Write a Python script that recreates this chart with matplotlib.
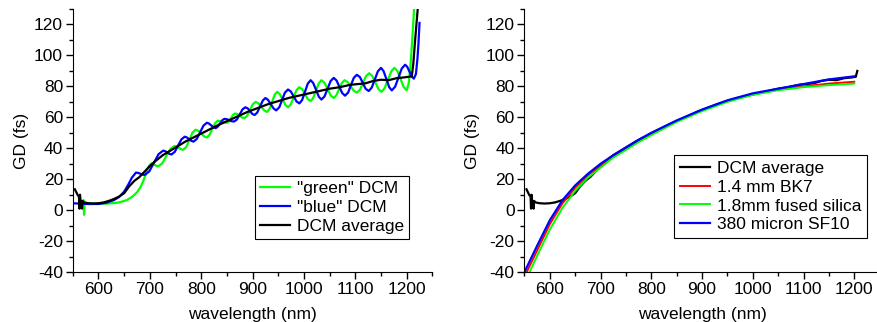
import numpy as np
import matplotlib
matplotlib.use("Agg")
import matplotlib.pyplot as plt

plt.rcParams['font.family'] = ['Liberation Sans', 'DejaVu Sans']
plt.rcParams['font.size'] = 12.5
plt.rcParams['axes.unicode_minus'] = False

# "green" DCM group delay (nm, fs)
green_wl = [563, 566, 569, 571, 572, 573, 580, 600, 620, 640, 655, 665, 675, 682, 688, 694, 698,
            703, 706, 709.5, 713, 716, 724, 732, 740, 748, 752, 756.5, 761, 765, 771, 777, 783,
            789, 794.5, 800, 805.5, 811, 816, 821.5, 827, 832, 836, 841, 845.5, 850, 854, 858, 862,
            866, 870.5, 875, 879.5, 884, 889.5, 895, 900.5, 906, 911.5, 917, 922.5, 928, 933, 938, 943,
            948, 953, 958.5, 964, 969, 974.5, 980, 985.5, 991, 996.5, 1002, 1007.5, 1013, 1018, 1023.5, 1029,
            1034, 1040, 1046, 1052, 1058, 1063, 1068.5, 1074, 1079, 1085, 1091, 1097, 1103, 1109, 1115, 1121,
            1127, 1133, 1139, 1145, 1151, 1157, 1163.5, 1170, 1176, 1182, 1188, 1194, 1200,
            1204, 1207, 1210, 1213, 1216]
green_gd = [8, 6, 5.5, 6.5, -3, 5, 4.5, 4.2, 4.3, 5, 6.5, 8.5, 11.5, 15, 19.5, 25, 28.5,
            30.3, 30.0, 29.3, 28.6, 28.3, 30.2, 34.9, 39.6, 41.5, 41.1, 40.3, 39.4, 39, 40.9, 45.5, 50.1,
            52, 51.3, 49.5, 47.7, 47, 48.6, 52.4, 56.2, 57.8, 57.6, 57.2, 56.7, 56.5, 57.4, 59.5, 61.6,
            62.5, 62.1, 61, 59.9, 59.5, 61, 64.8, 68.5, 70, 69, 66.8, 64.5, 63.5, 65.4, 70, 74.6,
            76.5, 75, 71.5, 68, 66.5, 68.4, 73, 77.6, 79.5, 78.2, 75, 71.8, 70.5, 72.5, 77.3, 82,
            84, 82.3, 78.3, 74.2, 72.5, 74.2, 78.3, 82.3, 84, 82.8, 80, 77.2, 76, 77.8, 82.3, 86.7,
            88.5, 86.7, 82.5, 78.3, 76.5, 78.8, 84.3, 89.7, 92, 89.9, 84.8, 79.6, 77.5,
            82, 92, 106, 122, 140]

# "blue" DCM group delay
blue_wl = [550, 565, 580, 600, 615, 630, 640, 650, 658, 665, 673, 677, 681.5, 686, 690, 699, 708, 717,
           726, 730, 734, 738, 742, 748.5, 755, 761.5, 768, 772, 776.5, 781, 785, 791.5, 798, 804.5,
           811, 815, 819.5, 824, 828, 832, 836.5, 841, 845, 850, 854.5, 859, 864, 869.5, 875, 880.5,
           886, 890.5, 895, 899.5, 904, 909, 914.5, 920, 925, 930, 935.5, 941, 946, 952, 957.5, 963,
           969, 974.5, 980, 985.5, 991, 996.5, 1002, 1007.5, 1013, 1018, 1023.5, 1029, 1034, 1040, 1046, 1052,
           1058, 1063.5, 1069, 1074.5, 1080, 1086, 1091.5, 1097, 1103, 1109, 1114.5, 1120, 1126, 1132, 1138, 1144,
           1150, 1155, 1160.5, 1166, 1171, 1177.5, 1184, 1190.5, 1197, 1201, 1205.5, 1210, 1214,
           1218, 1221, 1223, 1225]
blue_gd = [4.5, 4.2, 4, 4, 4.8, 6.5, 8.5, 12, 16.5, 21, 24.3, 24.1, 23.6, 23, 22.8, 25.1, 30.7, 36.2,
           38.5, 38.1, 37.3, 36.4, 36, 37.7, 41.8, 45.8, 47.5, 47, 45.9, 44.8, 44.3, 46.1, 50.4, 54.7,
           56.5, 56, 54.8, 53.5, 53, 53.9, 56, 58.1, 59, 58.8, 58.2, 57.5, 57.3, 58.6, 61.9, 65.2,
           66.5, 65.8, 64, 62.2, 61.5, 63.1, 67, 70.9, 72.5, 71.3, 68.5, 65.7, 64.5, 66.5, 71.3, 76,
           78, 76.7, 73.5, 70.3, 69, 71.2, 76.5, 81.8, 84, 82.2, 77.8, 73.3, 71.5, 73.5, 78.5, 83.5,
           85.5, 83.8, 79.8, 75.7, 74, 76, 80.8, 85.5, 87.5, 86, 82.3, 78.5, 77, 79.2, 84.5, 89.8,
           92, 89.9, 84.7, 79.5, 77.4, 79.8, 85.7, 91.6, 94, 92.7, 89.5, 86.3, 85,
           88, 98, 108, 121]

# DCM average
avg_wl = [554, 557, 560, 562, 563, 564, 565, 567, 568, 569, 572, 580, 590, 600, 610, 620, 630, 640,
          650, 660, 670, 680, 690, 700, 710, 725, 740, 755, 770, 785, 800, 815, 830, 850, 870, 890,
          910, 930, 950, 970, 990, 1010, 1030, 1050, 1070, 1090, 1105, 1120, 1135, 1150, 1165, 1180,
          1195, 1210, 1213, 1216, 1219, 1222]
avg_gd = [13.5, 11.5, 9.5, 9, 1, 10, 6.5, 5.5, 1, 6, 5, 4.5, 4.3, 4.5, 5, 6, 7.2, 8.8,
          11, 15.5, 19, 21.5, 25, 28.5, 31.5, 35.5, 38.5, 41.5, 44.5, 47, 49.5, 52, 54.5, 57.5, 60.5, 63.5,
          66, 68.5, 70.5, 72.5, 74, 75.5, 77, 78.5, 79.5, 81, 81.5, 82, 83.5, 84.3, 84, 85.3,
          85.8, 86.5, 95, 108, 120, 132]
# end of the average curve as shown in the right panel
avg_tail_wl = [1203, 1206]
avg_tail_gd = [86.2, 90]

# glass group delays
glass_wl = [550, 575, 600, 625, 650, 675, 700, 725, 750, 775, 800, 850, 900, 950, 1000, 1050, 1100, 1150, 1200]
bk7_gd = [-43, -26, -9, 4.5, 14.5, 22.5, 29, 35, 40, 45, 49.5, 57.5, 64.5, 70.5, 75, 78, 80, 81.8, 83]
silica_gd = [-47, -29.5, -12.5, 1.5, 12.5, 21, 27.5, 34, 39, 44, 48.5, 57, 64, 70, 74.5, 77.5, 79.5, 80.8, 81.8]
sf10_gd = [-40, -23, -6.5, 6.5, 16, 23.5, 30, 35.5, 40.5, 45.5, 50, 58, 65, 71, 75.5, 78.5, 81.5, 84.5, 86.5]

GREEN = '#00ff00'
BLUE = '#0000ff'
RED = '#ff0000'

fig = plt.figure(figsize=(8.77, 3.22), dpi=100)
ax1 = fig.add_axes([0.083, 0.155, 0.410, 0.817])
ax2 = fig.add_axes([0.598, 0.155, 0.405, 0.817])

ax1.plot(green_wl, green_gd, color=GREEN, lw=1.6, label='"green" DCM')
ax1.plot(blue_wl, blue_gd, color=BLUE, lw=1.6, label='"blue" DCM')
ax1.plot(avg_wl, avg_gd, color='black', lw=1.6, label='DCM average')

avg_wl_arr = np.array(avg_wl)
keep = avg_wl_arr <= 1200
ax2.plot(list(avg_wl_arr[keep]) + avg_tail_wl, list(np.array(avg_gd)[keep]) + avg_tail_gd,
         color='black', lw=1.6, label='DCM average')
ax2.plot(glass_wl, bk7_gd, color=RED, lw=1.4, label='1.4 mm BK7')
ax2.plot(glass_wl, silica_gd, color=GREEN, lw=1.4, label='1.8mm fused silica')
ax2.plot(glass_wl, sf10_gd, color=BLUE, lw=1.6, label='380 micron SF10')

for ax in (ax1, ax2):
    ax.set_xlim(550, 1250)
    ax.set_ylim(-40, 130)
    ax.set_xticks([600, 700, 800, 900, 1000, 1100, 1200])
    ax.set_xticks(np.arange(550, 1251, 50), minor=True)
    ax.set_yticks(np.arange(-40, 121, 20))
    ax.set_yticks(np.arange(-40, 131, 10), minor=True)
    ax.spines['top'].set_visible(False)
    ax.spines['right'].set_visible(False)
    ax.tick_params(which='major', direction='out', length=5, width=1, labelsize=12.5, pad=2)
    ax.tick_params(which='minor', direction='out', length=3, width=1)
    ax.set_xlabel('wavelength (nm)', fontsize=12.5, labelpad=7)
    ax.set_ylabel('GD (fs)', fontsize=12.5, labelpad=4)

leg1 = ax1.legend(loc='upper left', bbox_to_anchor=(0.507, 0.365), borderaxespad=0,
                  fancybox=False, edgecolor='black', framealpha=1, handlelength=1.7,
                  labelspacing=0.2, borderpad=0.3, handletextpad=0.4, fontsize=12.5)
leg1.get_frame().set_linewidth(0.8)
leg2 = ax2.legend(loc='upper left', bbox_to_anchor=(0.422, 0.445), borderaxespad=0,
                  fancybox=False, edgecolor='black', framealpha=1, handlelength=1.7,
                  labelspacing=0.2, borderpad=0.35, handletextpad=0.4, fontsize=12.5)
leg2.get_frame().set_linewidth(0.8)

fig.savefig('out.png', dpi=100)
